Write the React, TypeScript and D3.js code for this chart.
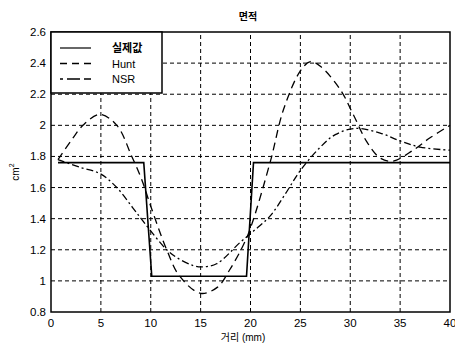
import React, { useEffect, useRef } from "react";
import * as d3 from "d3";

// 실제값 (actual area)
const actualX = [0.7, 9.3, 10.1, 19.6, 20.3, 40];
const actualY = [1.76, 1.76, 1.03, 1.03, 1.76, 1.76];

// Hunt
const huntX = [0.7, 2, 3.2, 4.9, 6.6, 8.1, 9.1, 10, 11.6, 12.9, 15, 16.7, 17.9, 19.2, 20, 22, 23.3, 25, 26, 27, 29, 30.3, 31.7, 33, 34.3, 36.3, 38, 40];
const huntY = [1.78, 1.9, 2.0, 2.07, 2.0, 1.8, 1.65, 1.48, 1.2, 1.03, 0.92, 0.96, 1.07, 1.22, 1.34, 1.77, 2.1, 2.35, 2.41, 2.38, 2.23, 2.07, 1.89, 1.79, 1.77, 1.84, 1.92, 2.0];

// NSR
const nsrX = [0.7, 2.9, 4.9, 6.6, 8.2, 9.4, 11.6, 12.6, 14.2, 15.1, 16.6, 19, 20.3, 22, 23.5, 25, 27, 28.5, 30.5, 33, 35, 37, 40];
const nsrY = [1.78, 1.73, 1.69, 1.6, 1.47, 1.37, 1.2, 1.15, 1.1, 1.09, 1.11, 1.25, 1.32, 1.42, 1.56, 1.71, 1.86, 1.94, 1.98, 1.95, 1.9, 1.86, 1.84];

const xTicks = [0, 5, 10, 15, 20, 25, 30, 35, 40];
const yTicks = [0.8, 1, 1.2, 1.4, 1.6, 1.8, 2, 2.2, 2.4, 2.6];

const seriesNames = ["실제값", "Hunt", "NSR"];
const seriesDash = ["none", "8,5", "7,3,2,3"];

const FONT = "'Liberation Sans', Arial, 'Noto Sans CJK KR', sans-serif";

const App: React.FC = () => {
  const svgRef = useRef<SVGSVGElement | null>(null);

  useEffect(() => {
    if (!svgRef.current) return;
    const svg = d3.select(svgRef.current);
    svg.selectAll("*").remove();

    const margin = { top: 32, right: 5, bottom: 35, left: 51 };
    const width = 455;
    const height = 347;

    const x = d3.scaleLinear().domain([0, 40]).range([margin.left, width - margin.right]);
    const y = d3.scaleLinear().domain([0.8, 2.6]).range([height - margin.bottom, margin.top]);

    // grid
    const grid = svg.append("g").attr("stroke", "#000").attr("stroke-width", 1).attr("stroke-dasharray", "4,3");
    xTicks.slice(1, -1).forEach((t) => {
      grid.append("line").attr("x1", x(t)).attr("x2", x(t)).attr("y1", y(0.8)).attr("y2", y(2.6));
    });
    yTicks.slice(1, -1).forEach((t) => {
      grid.append("line").attr("x1", x(0)).attr("x2", x(40)).attr("y1", y(t)).attr("y2", y(t));
    });

    // series
    const line = d3
      .line<[number, number]>()
      .x((d) => x(d[0]))
      .y((d) => y(d[1]));
    const smooth = d3
      .line<[number, number]>()
      .x((d) => x(d[0]))
      .y((d) => y(d[1]))
      .curve(d3.curveCatmullRom.alpha(0.5));

    const series: [number, number][][] = [
      actualX.map((v, i) => [v, actualY[i]]),
      huntX.map((v, i) => [v, huntY[i]]),
      nsrX.map((v, i) => [v, nsrY[i]]),
    ];
    series.forEach((pts, i) => {
      svg
        .append("path")
        .attr("d", (i === 0 ? line : smooth)(pts))
        .attr("fill", "none")
        .attr("stroke", "#000")
        .attr("stroke-width", i === 0 ? 1.6 : 1.3)
        .attr("stroke-dasharray", seriesDash[i]);
    });

    // frame
    svg
      .append("rect")
      .attr("x", x(0))
      .attr("y", y(2.6))
      .attr("width", x(40) - x(0))
      .attr("height", y(0.8) - y(2.6))
      .attr("fill", "none")
      .attr("stroke", "#000")
      .attr("stroke-width", 1.5);

    // tick labels
    svg
      .append("g")
      .selectAll("text")
      .data(xTicks)
      .join("text")
      .attr("x", (d) => x(d))
      .attr("y", y(0.8) + 15)
      .attr("text-anchor", "middle")
      .attr("font-family", FONT)
      .attr("font-size", 11.5)
      .text((d) => String(d));
    svg
      .append("g")
      .selectAll("text")
      .data(yTicks)
      .join("text")
      .attr("x", x(0) - 5)
      .attr("y", (d) => y(d) + 4)
      .attr("text-anchor", "end")
      .attr("font-family", FONT)
      .attr("font-size", 11.5)
      .text((d) => String(d));

    // title and axis labels
    svg
      .append("text")
      .attr("x", 248)
      .attr("y", 20)
      .attr("text-anchor", "middle")
      .attr("font-family", FONT)
      .attr("font-size", 10)
      .attr("font-weight", "bold")
      .text("면적");

    svg
      .append("text")
      .attr("x", 243)
      .attr("y", 341)
      .attr("text-anchor", "middle")
      .attr("font-family", FONT)
      .attr("font-size", 10)
      .text("거리 (mm)");

    const yl = svg
      .append("text")
      .attr("transform", `translate(19,${(y(0.8) + y(2.6)) / 2}) rotate(-90)`)
      .attr("text-anchor", "middle")
      .attr("font-family", FONT)
      .attr("font-size", 10);
    yl.append("tspan").text("cm");
    yl.append("tspan").attr("dy", -5).attr("font-size", 7).text("2");

    // legend
    const legend = svg.append("g").attr("transform", `translate(${x(0)},${y(2.6)})`);
    legend
      .append("rect")
      .attr("width", 111)
      .attr("height", 61)
      .attr("fill", "#fff")
      .attr("stroke", "#000")
      .attr("stroke-width", 1.5);
    seriesNames.forEach((name, i) => {
      const cy = 16 + i * 15.5;
      legend
        .append("line")
        .attr("x1", 9)
        .attr("x2", 40)
        .attr("y1", cy)
        .attr("y2", cy)
        .attr("stroke", "#000")
        .attr("stroke-width", i === 0 ? 1.2 : 1.3)
        .attr("stroke-dasharray", i === 1 ? "7,5" : i === 2 ? "3,4,10,0" : "none");
      legend
        .append("text")
        .attr("x", 61)
        .attr("y", cy + 4)
        .attr("font-family", FONT)
        .attr("font-size", 11)
        .attr("font-weight", i === 0 ? "bold" : "normal")
        .text(name);
    });
  }, []);

  return (
    <svg
      ref={svgRef}
      width={455}
      height={347}
      style={{ position: "absolute", left: 0, top: 0, background: "#fff" }}
    />
  );
};

export default App;
